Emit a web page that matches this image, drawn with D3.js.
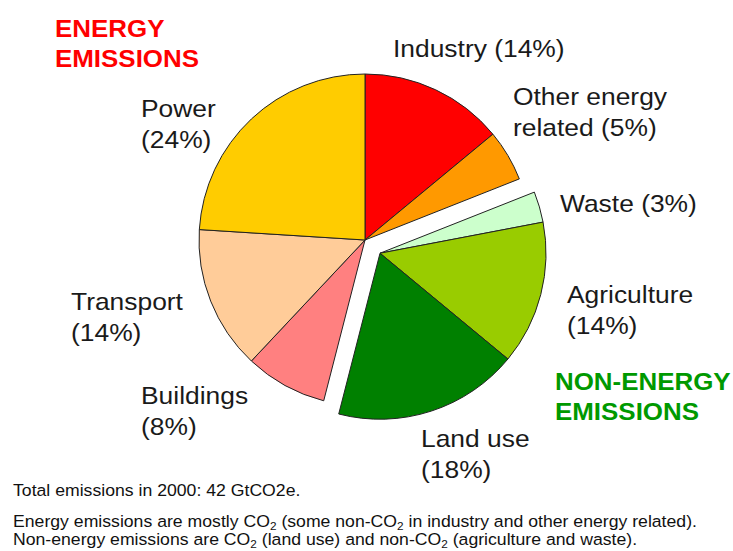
<!DOCTYPE html>
<html>
<head>
<meta charset="utf-8">
<script src="https://cdn.jsdelivr.net/npm/d3@7"></script>
<style>
  body { margin: 0; background: #fff; }
  svg { display: block; font-family: "Liberation Sans", Arial, sans-serif; }
</style>
</head>
<body>
<div id="chart"></div>
<script>
// data
const categories = ["Industry", "Other energy related", "Waste", "Agriculture", "Land use", "Buildings", "Transport", "Power"];
const shares = [14, 5, 3, 14, 18, 8, 14, 24];
const groups = ["energy", "energy", "non-energy", "non-energy", "non-energy", "energy", "energy", "energy"];
const colors = ["#ff0000", "#ff9900", "#ccffcc", "#99cc00", "#008000", "#ff8080", "#ffcc99", "#ffcc00"];
const groupTitles = { "energy": ["ENERGY", "EMISSIONS"], "non-energy": ["NON-ENERGY", "EMISSIONS"] };
const notes = [
    [["Total emissions in 2000: 42 GtCO2e."]],
    [["Energy emissions are mostly CO"], ["2", "sub"], [" (some non-CO"], ["2", "sub"], [" in industry and other energy related)."]],
    [["Non-energy emissions are CO"], ["2", "sub"], [" (land use) and non-CO"], ["2", "sub"], [" (agriculture and waste)."]]
];

// layout: label anchor = left edge / first baseline
const labelLayout = [
    { x: 393, y: 57, lines: ["Industry (14%)"] },
    { x: 513, y: 105, lines: ["Other energy", "related (5%)"] },
    { x: 560, y: 212, lines: ["Waste (3%)"] },
    { x: 567, y: 303, lines: ["Agriculture", "(14%)"] },
    { x: 421, y: 447, lines: ["Land use", "(18%)"] },
    { x: 141, y: 404, lines: ["Buildings", "(8%)"] },
    { x: 71, y: 310, lines: ["Transport", "(14%)"] },
    { x: 141, y: 117, lines: ["Power", "(24%)"] }
];

const W = 733, H = 551;
const cx = 365, cy = 240, R = 166, explode = 20;

const svg = d3.select("#chart").append("svg")
    .attr("width", W)
    .attr("height", H);

const data = categories.map((c, i) => ({ name: c, value: shares[i], group: groups[i], color: colors[i] }));

const pie = d3.pie().sort(null).value(d => d.value);
const arcs = pie(data);
const arc = d3.arc().innerRadius(0).outerRadius(R);

// offset for the non-energy block, along its middle angle
const ne = arcs.filter(a => a.data.group === "non-energy");
const neMid = (d3.min(ne, a => a.startAngle) + d3.max(ne, a => a.endAngle)) / 2;
const offX = Math.sin(neMid) * explode, offY = -Math.cos(neMid) * explode;

const g = svg.append("g").attr("transform", `translate(${cx},${cy})`);

g.selectAll(".slice")
    .data(arcs)
    .enter()
    .append("path")
        .attr("class", "slice")
        .attr("d", arc)
        .attr("transform", d => d.data.group === "non-energy" ? `translate(${offX},${offY})` : null)
        .attr("fill", d => d.data.color)
        .attr("stroke", "#222")
        .attr("stroke-width", 1)
        .attr("stroke-linejoin", "round");

// slice labels
labelLayout.forEach((l, i) => {
    const t = svg.append("text")
        .attr("transform", `translate(${l.x},${l.y}) scale(1.1,1)`)
        .attr("font-size", 24)
        .attr("fill", "#1a1a1a");
    l.lines.forEach((line, j) => {
        t.append("tspan").attr("x", 0).attr("dy", j === 0 ? 0 : 31).text(line);
    });
});

// group titles
[["energy", 55, 37, "#ff0000"], ["non-energy", 555, 390, "#009900"]].forEach(([k, x, y, c]) => {
    const t = svg.append("text")
        .attr("transform", `translate(${x},${y}) scale(1.08,1)`)
        .attr("font-size", 24)
        .attr("font-weight", "bold")
        .attr("fill", c);
    groupTitles[k].forEach((line, j) => {
        t.append("tspan").attr("x", 0).attr("dy", j === 0 ? 0 : 30).text(line);
    });
});

// footnotes
const noteY = [496, 527, 545];
notes.forEach((parts, i) => {
    const t = svg.append("text")
        .attr("transform", `translate(13,${noteY[i]}) scale(1.07,1)`)
        .attr("font-size", 16.5)
        .attr("fill", "#111");
    let shift = 0;
    parts.forEach(([s, kind]) => {
        const sub = kind === "sub";
        const target = sub ? 3 : 0;
        t.append("tspan")
            .attr("font-size", sub ? 11 : null)
            .attr("dy", target - shift)
            .text(s);
        shift = target;
    });
});
</script>
</body>
</html>
